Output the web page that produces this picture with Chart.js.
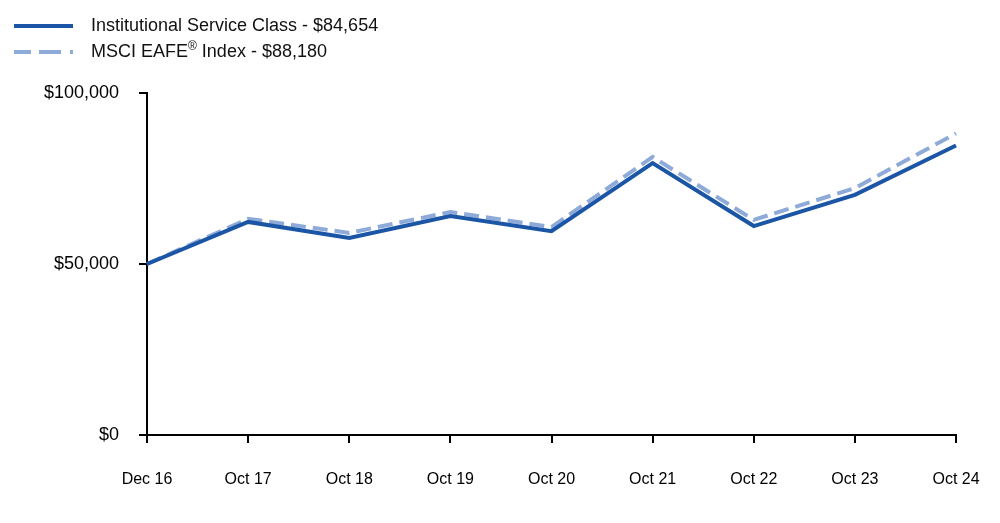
<!DOCTYPE html>
<html>
<head>
<meta charset="utf-8">
<script src="https://cdn.jsdelivr.net/npm/chart.js@4/dist/chart.umd.min.js"></script>
<style>
  html, body { margin: 0; padding: 0; background: #fff; }
  #wrap { position: relative; width: 1000px; height: 523px; }
  #chart { position: absolute; left: 0; top: 0; }
  .legend { position: absolute; left: 14px; top: 12px; font-family: Arial, "Liberation Sans", sans-serif; font-size: 18px; color: #111; }
  .legend .row { height: 26px; line-height: 26px; white-space: nowrap; }
  .legend .swatch { display: inline-block; width: 59px; height: 0; vertical-align: middle; margin-right: 18px; }
  .legend .solid { border-top: 4px solid #1b55a5; }
  .legend .dashed { border-top: 4px dashed #8eaad8; border-image: repeating-linear-gradient(90deg, #8eaad8 0 19px, transparent 19px 26px) 4; }
  .legend sup { font-size: 12px; vertical-align: 7px; line-height: 0; }
</style>
</head>
<body>
<div id="wrap">
  <canvas id="chart" width="1000" height="523"></canvas>
  <div class="legend">
    <div class="row"><span class="swatch solid"></span>Institutional Service Class - $84,654</div>
    <div class="row"><span class="swatch dashed"></span>MSCI EAFE<sup>®</sup> Index - $88,180</div>
  </div>
</div>
<script>
// ── Data ─────────────────────────────────────────────────
const labels        = ['Dec 16', 'Oct 17', 'Oct 18', 'Oct 19', 'Oct 20', 'Oct 21', 'Oct 22', 'Oct 23', 'Oct 24'];
const institutional = [50000, 62300, 57600, 64000, 59600, 79500, 61100, 70200, 84654];
const msciEafe      = [50000, 63200, 59100, 65200, 60800, 81300, 62900, 72200, 88180];
const yTicks        = [0, 50000, 100000];

const FONT = 'Arial, "Liberation Sans", sans-serif';
const fmtUSD = v => '$' + Number(v).toLocaleString('en-US');

new Chart(document.getElementById('chart'), {
  type: 'line',
  data: {
    labels,
    datasets: [
      {
        label: 'Institutional Service Class - $84,654',
        data: institutional,
        borderColor: '#1b55a5',
        borderWidth: 4,
        pointRadius: 0,
        tension: 0,
      },
      {
        label: 'MSCI EAFE® Index - $88,180',
        data: msciEafe,
        borderColor: '#8eaad8',
        borderWidth: 4,
        borderDash: [15, 7],
        pointRadius: 0,
        tension: 0,
      },
    ],
  },
  options: {
    responsive: false,
    animation: false,
    layout: { padding: { top: 93, right: 44, bottom: 0, left: 0 } },
    plugins: { legend: { display: false }, tooltip: { enabled: false } },
    scales: {
      x: {
        offset: false,
        border: { color: '#000', width: 2 },
        grid: { drawOnChartArea: false, drawTicks: true, tickLength: 8, color: '#000', lineWidth: 2 },
        ticks: { color: '#000', font: { family: FONT, size: 16 }, padding: 27, maxRotation: 0, autoSkip: false },
        afterFit: s => { s.height = 88; s.paddingLeft = 0; s.paddingRight = 0; },
      },
      y: {
        min: 0,
        max: 100000,
        border: { color: '#000', width: 2 },
        grid: { drawOnChartArea: false, drawTicks: true, tickLength: 8, color: '#000', lineWidth: 2 },
        ticks: { color: '#000', font: { family: FONT, size: 18 }, padding: 20, stepSize: 50000, callback: v => fmtUSD(v) },
        afterBuildTicks: s => { s.ticks = yTicks.map(v => ({ value: v })); },
        afterFit: s => { s.width = 147; },
      },
    },
  },
});
</script>
</body>
</html>
